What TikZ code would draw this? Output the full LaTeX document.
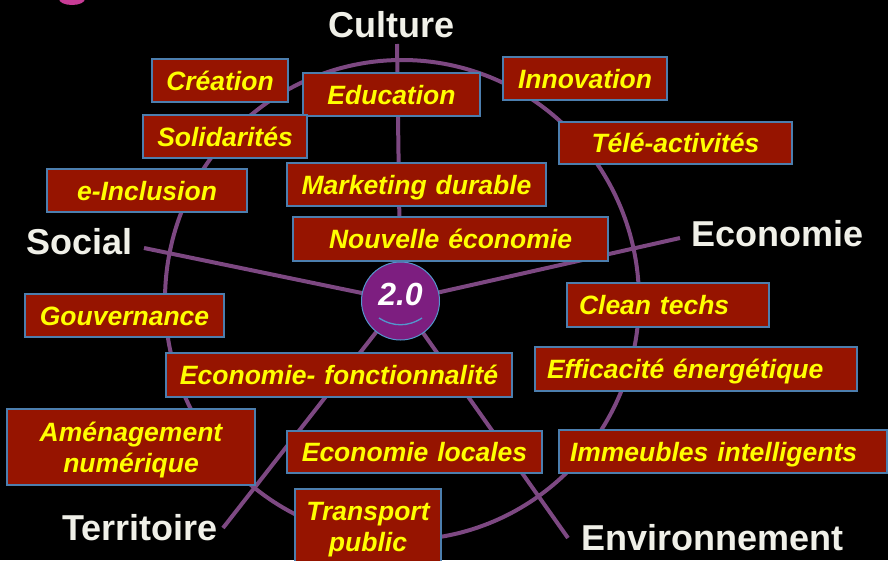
\documentclass[tikz,border=0pt]{standalone}
\usepackage{fontspec}
\setmainfont{Liberation Sans}
\definecolor{boxred}{RGB}{150,20,0}
\definecolor{boxblue}{RGB}{76,126,174}
\definecolor{boxyellow}{RGB}{255,255,0}
\definecolor{spokecol}{RGB}{125,72,130}
\definecolor{hubpurple}{RGB}{125,30,128}
\definecolor{hubblue}{RGB}{84,150,205}
\definecolor{labelwhite}{RGB}{240,240,232}
\definecolor{blobpink}{RGB}{200,60,150}
\begin{document}
\begin{tikzpicture}[x=1pt,y=-1pt,
  box/.style={draw=boxblue, line width=2pt, fill=boxred, text=boxyellow,
    font=\fontsize{26.5}{31}\selectfont\bfseries\itshape,
    inner xsep=0pt, inner ysep=0pt, minimum height=43pt,
    text height=19pt, text depth=0pt, align=center},
  lbox/.style={box, align=left, inner xsep=12pt},
  lbl/.style={text=labelwhite, font=\fontsize{36}{40}\selectfont\bfseries,
    inner sep=0pt, anchor=base},
  spoke/.style={draw=spokecol, line width=4pt}]
\fill[black] (0,0) rectangle (888,560);
\useasboundingbox (0,0) rectangle (888,560);
% fragment of cut-off title
\fill[blobpink] (72,-1) ellipse [x radius=13pt, y radius=6pt];
% big ring
\draw[spoke] (402,300) ellipse [x radius=237pt, y radius=240pt];
% spokes
\coordinate (hubc) at (400.5,301);
\coordinate (cultureEnd) at (397,44);
\coordinate (socialEnd) at (144,248);
\coordinate (econEnd) at (680,238);
\coordinate (terrEnd) at (223,528);
\coordinate (envEnd) at (568,538);
\draw[spoke] (hubc) -- (cultureEnd);
\draw[spoke] (hubc) -- (socialEnd);
\draw[spoke] (hubc) -- (econEnd);
\draw[spoke] (hubc) -- (terrEnd);
\draw[spoke] (hubc) -- (envEnd);
% hub
\node[circle, fill=hubpurple, draw=hubblue, line width=1pt, minimum size=78pt, inner sep=0pt] (hub) at (hubc) {};
\node[font=\fontsize{32}{34}\selectfont\bfseries\itshape, text=white, inner sep=0pt, anchor=base] (hubtxt) at (400.5,305) {2.0};
\draw[hubblue, line width=1.3pt] (379,318) .. controls (393,327) and (408,327) .. (422,318);
% boxes
\node[box, text width=136pt] (creation) at (220,80.5) {Création};
\node[box, text width=177pt] (education) at (391.5,94.5) {Education};
\node[box, text width=164pt] (innovation) at (585,78.5) {Innovation};
\node[box, text width=164pt] (solidarites) at (225,136.5) {Solidarités};
\node[box, text width=233pt, minimum height=42pt] (tele) at (675.5,143) {Télé-activités};
\node[box, text width=200pt] (einclusion) at (147,190.5) {e-Inclusion};
\node[box, text width=259pt] (marketing) at (416.5,184.5) {Marketing durable};
\node[box, text width=315pt, minimum height=44pt] (nouvelle) at (450.5,239) {Nouvelle économie};
\node[box, text width=199pt] (gouvernance) at (124.5,315.5) {Gouvernance};
\node[lbox, text width=178pt, minimum height=44pt] (clean) at (668,305) {Clean techs};
\node[lbox, text width=298pt, minimum height=44pt] (efficacite) at (696,369) {Efficacité énergétique};
\node[lbox, inner xsep=11pt, text width=306pt] (immeubles) at (723,451.5) {Immeubles intelligents};
\node[box, text width=346pt, minimum height=44pt] (fonction) at (339,375) {Economie- fonctionnalité};
\node[box, text width=248pt, minimum height=76pt, text height=19pt, text depth=31pt] (amenagement) at (131,447) {Aménagement\\numérique};
\node[box, text width=146pt, minimum height=74pt, text height=19pt, text depth=31pt] (transport) at (368,526) {Transport\\public};
\node[box, text width=255pt, minimum height=42pt] (locales) at (414.5,452) {Economie locales};
% pillar labels
\node[lbl] (culture) at (391.5,37) {Culture};
\node[lbl] (social) at (79.5,254) {Social};
\node[lbl] (economie) at (777.5,246) {Economie};
\node[lbl] (territoire) at (140,540) {Territoire};
\node[lbl] (environnement) at (712.5,550) {Environnement};
\end{tikzpicture}
\end{document}
